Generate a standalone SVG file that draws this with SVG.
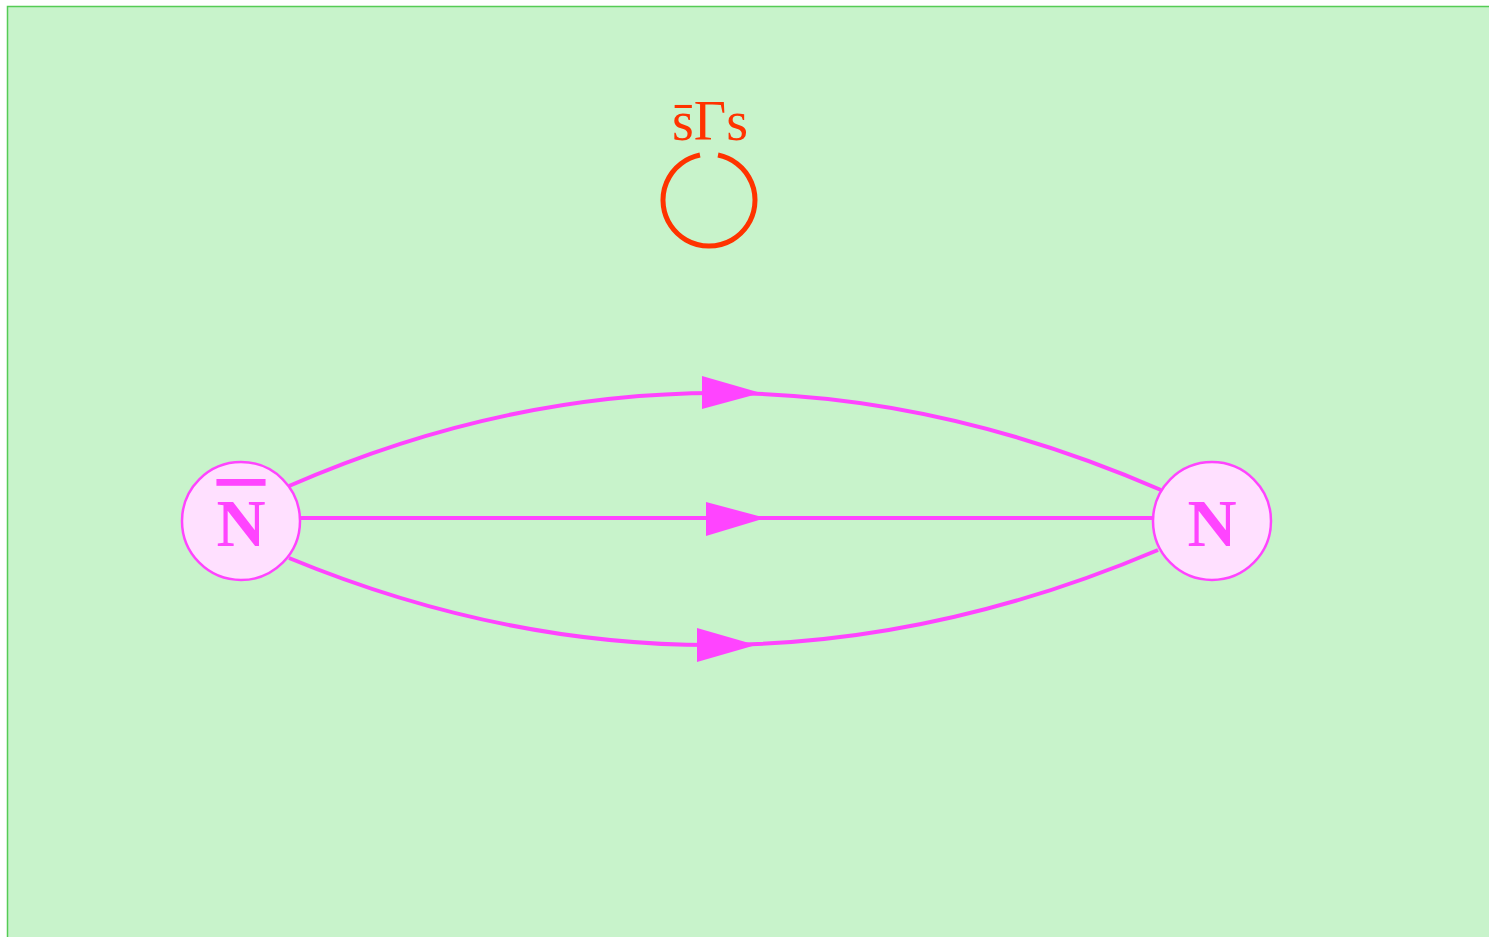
<svg xmlns="http://www.w3.org/2000/svg" width="1489" height="937" viewBox="0 0 1489 937">
  <style>
    .frame { fill: #c8f3cb; stroke: #55cc55; stroke-width: 1.5; }
    .node circle { fill: #ffe0ff; stroke: #ff44ff; stroke-width: 2.5; }
    .node text { fill: #ff44ff; font-family: "Liberation Serif", "DejaVu Serif", serif; font-weight: bold; font-size: 68px; text-anchor: middle; }
    .bar { text-decoration: overline; }
    .edge { fill: none; stroke: #ff44ff; stroke-width: 4; }
    .head { fill: #ff44ff; stroke: none; }
    .loop { fill: none; stroke: #ff3300; stroke-width: 5; }
    .loop-label { fill: #ff3300; font-family: "Liberation Serif", "DejaVu Serif", serif; font-size: 56px; text-anchor: middle; }
  </style>

  <rect class="frame" x="7.5" y="6.5" width="1500" height="950"/>

  <!-- scalar self-loop -->
  <g id="loop">
    <path class="loop" d="M 700 155 A 46 46 0 1 0 718 155"/>
    <text class="loop-label" x="710" y="140">s̄Γs</text>
  </g>

  <!-- propagators from N̄ to N -->
  <g id="edges">
    <path class="edge" d="M 289 486 Q 720 298 1161 490"/>
    <polygon class="head" points="702,376 761,393 702,409"/>
    <path class="edge" d="M 301 518 L 1152 518"/>
    <polygon class="head" points="706,502 766,518 706,536"/>
    <path class="edge" d="M 289 558 Q 720 736 1158 550"/>
    <polygon class="head" points="697,628 756,645 697,662"/>
  </g>

  <g id="nbar" class="node">
    <circle cx="241" cy="521" r="59"/>
    <text x="241" y="546" class="bar">N</text>
  </g>

  <g id="n" class="node">
    <circle cx="1212" cy="521" r="59"/>
    <text x="1212" y="546">N</text>
  </g>
</svg>
